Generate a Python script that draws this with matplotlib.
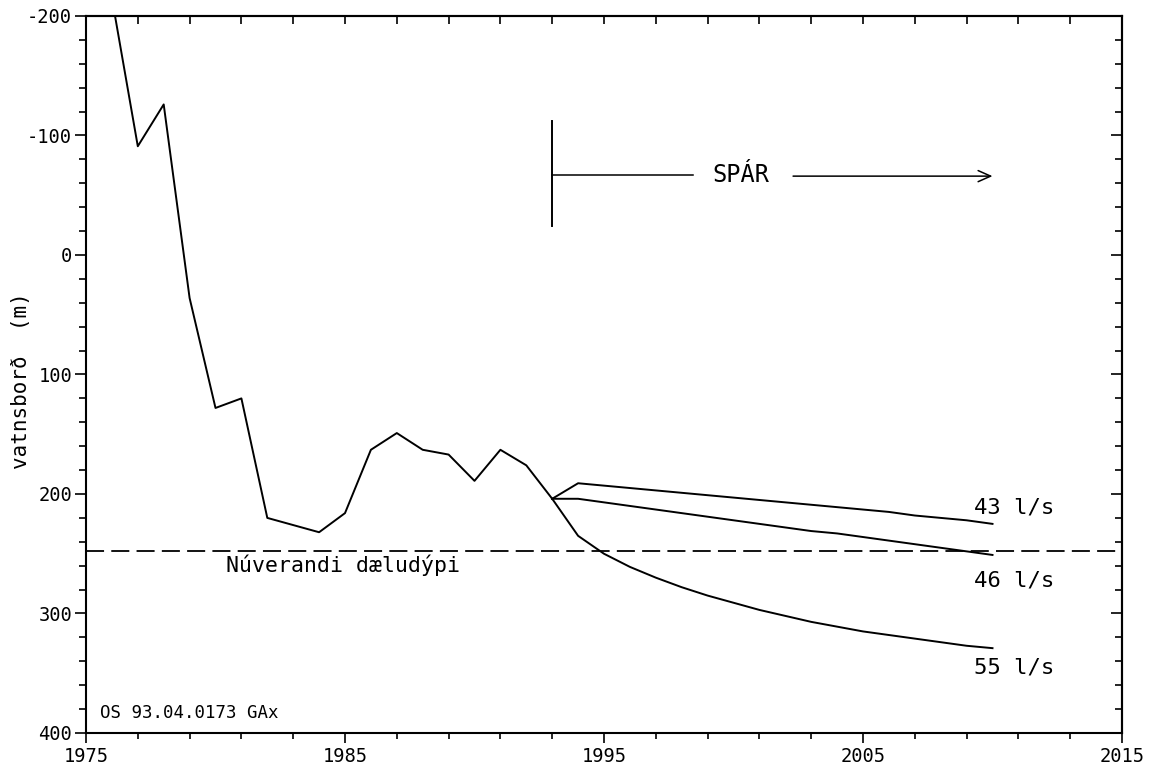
import numpy as np
import matplotlib.pyplot as plt
from matplotlib.ticker import MultipleLocator

# measured water level (m), yearly
obs_years = np.arange(1976, 1994)
obs_level = [-215, -91, -126, 36, 128, 120, 220, 226, 232, 216,
             163, 149, 163, 167, 189, 163, 176, 204]

# forecasts for three pumping rates
fc_years = np.arange(1993, 2011)
fc_43 = [204, 191, 193, 195, 197, 199, 201, 203, 205, 207,
         209, 211, 213, 215, 218, 220, 222, 225]
fc_46 = [204, 204, 207, 210, 213, 216, 219, 222, 225, 228,
         231, 233, 236, 239, 242, 245, 248, 251]
fc_55 = [204, 235, 250, 261, 270, 278, 285, 291, 297, 302,
         307, 311, 315, 318, 321, 324, 327, 329]
fc_labels = ['43 l/s', '46 l/s', '55 l/s']
label_y = [211, 272, 345]

pump_depth = 248

plt.rcParams['font.family'] = ['DejaVu Sans Mono', 'DejaVu Sans']
plt.rcParams['axes.unicode_minus'] = False

W, H = 1157, 773
fig = plt.figure(figsize=(W / 100, H / 100), dpi=100)
ax = fig.add_axes([86 / W, 1 - 733 / H, 1036 / W, 717 / H])

lw = 1.4
ax.plot(obs_years, obs_level, color='black', lw=lw)
for series in (fc_43, fc_46, fc_55):
    ax.plot(fc_years, series, color='black', lw=lw)
ax.axhline(pump_depth, color='black', lw=1.3, ls=(0, (10, 4)))

for lab, yy in zip(fc_labels, label_y):
    ax.text(2009.3, yy, lab, fontsize=16, ha='left', va='center')
ax.text(1980.4, 260, 'Núverandi dæludýpi', fontsize=15.5, ha='left', va='center')
ax.text(1975.55, 383, 'OS 93.04.0173 GAx', fontsize=12.5, ha='left', va='center')

# forecast marker
ax.plot([1993, 1993], [-112, -24], color='black', lw=1.4)
ax.plot([1993, 1998.45], [-67, -67], color='black', lw=1.1)
ax.text(2000.3, -67, 'SPÁR', fontsize=17, ha='center', va='center')
ax.annotate('', xy=(2010, -66), xytext=(2002.3, -66),
            arrowprops=dict(arrowstyle='->,head_length=0.9,head_width=0.4',
                            lw=1.1, color='black', shrinkA=0, shrinkB=0))

ax.set_xlim(1975, 2015)
ax.set_ylim(400, -200)
ax.xaxis.set_major_locator(MultipleLocator(10, offset=5))
ax.xaxis.set_minor_locator(MultipleLocator(2, offset=1))
ax.yaxis.set_major_locator(MultipleLocator(100))
ax.yaxis.set_minor_locator(MultipleLocator(20))
ax.tick_params(which='both', direction='out', top=False, right=False,
               width=1.2, labelsize=13.5)
ax.tick_params(axis='x', which='major', length=7, pad=3)
ax.tick_params(axis='x', which='minor', length=4.5)
ax.tick_params(axis='y', which='major', length=8, pad=2)
ax.tick_params(axis='y', which='minor', length=5)

# inward ticks on top and right
secx = ax.secondary_xaxis('top')
secx.xaxis.set_major_locator(MultipleLocator(2, offset=1))
secx.tick_params(direction='in', length=6, width=1.2, labeltop=False)
secy = ax.secondary_yaxis('right')
secy.yaxis.set_major_locator(MultipleLocator(100))
secy.yaxis.set_minor_locator(MultipleLocator(20))
secy.tick_params(which='major', direction='in', length=8, width=1.2, labelright=False)
secy.tick_params(which='minor', direction='in', length=5, width=1.2)

for a in (ax, secx, secy):
    for s in a.spines.values():
        s.set_linewidth(1.5)

fig.text(21 / W, 1 - 381 / H, 'vatnsborð  (m)', rotation=90,
         fontsize=15, ha='center', va='center')

fig.savefig('out.png', dpi=100)
